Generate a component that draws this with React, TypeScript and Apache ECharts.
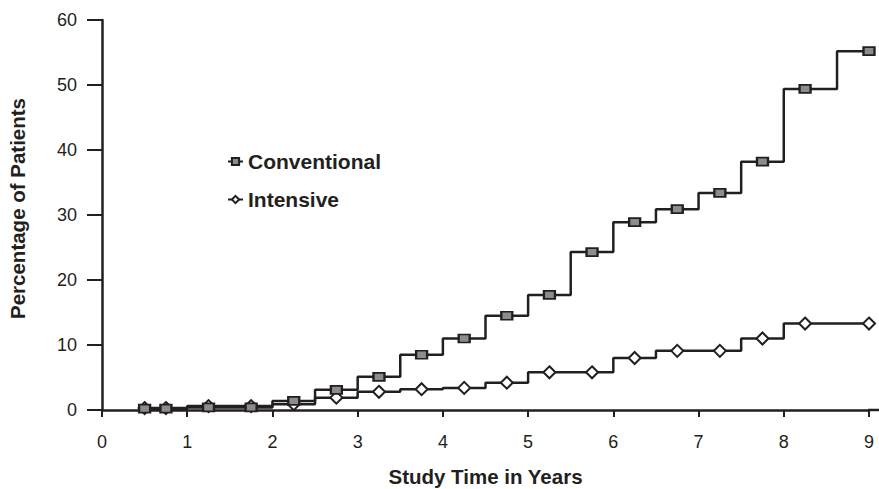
import React, { useEffect, useRef } from "react";
import * as echarts from "echarts";

const years = [0.5, 0.75, 1.25, 1.75, 2.25, 2.75, 3.25, 3.75, 4.25, 4.75, 5.25, 5.75, 6.25, 6.75, 7.25, 7.75, 8.25, 9];
const conventional = [0.2, 0.2, 0.4, 0.4, 1.4, 3.1, 5.1, 8.5, 11.0, 14.5, 17.7, 24.3, 28.9, 30.9, 33.4, 38.2, 49.4, 55.2];
const intensive = [0.3, 0.3, 0.6, 0.6, 0.9, 1.9, 2.8, 3.2, 3.4, 4.2, 5.8, 5.8, 8.0, 9.1, 9.1, 11.0, 13.3, 13.3];
const seriesNames = ["Conventional", "Intensive"];
const xTitle = "Study Time in Years";
const yTitle = "Percentage of Patients";

const INK = "#231f20";
const FONT = "'Liberation Sans', Arial, sans-serif";

export default function App() {
  const ref = useRef<HTMLDivElement>(null);
  useEffect(() => {
    if (!ref.current) return;
    const chart = echarts.init(ref.current, null, { renderer: "svg" });
    const gridLeft = 102;
    const gridRight = 10;
    const gridTop = 20;
    const gridBottom = 79;
    const W = 879;
    const H = 489;
    chart.setOption({
      animation: false,
      backgroundColor: "#ffffff",
      textStyle: { fontFamily: FONT },
      grid: {
        left: gridLeft,
        right: gridRight,
        top: gridTop,
        bottom: gridBottom,
        containLabel: false,
        outerBoundsMode: "none",
      },
      legend: {
        data: seriesNames,
        orient: "vertical",
        left: 222,
        top: 146,
        itemGap: 17,
        itemWidth: 15,
        itemHeight: 9,
        textStyle: { fontFamily: FONT, fontWeight: "bold", fontSize: 21, color: INK },
      },
      xAxis: {
        type: "value",
        min: 0,
        max: 9,
        interval: 1,
        name: xTitle,
        nameLocation: "middle",
        nameGap: 56,
        nameTextStyle: { fontFamily: FONT, fontWeight: "bold", fontSize: 20.5, color: INK },
        splitLine: { show: false },
        axisLine: { show: true, onZero: false, lineStyle: { color: INK, width: 2.5 } },
        axisTick: { show: true, length: 7, lineStyle: { color: INK, width: 2 } },
        axisLabel: { margin: 23, fontFamily: FONT, fontSize: 18, color: INK },
      },
      yAxis: {
        type: "value",
        min: 0,
        max: 60,
        interval: 10,
        name: yTitle,
        nameLocation: "middle",
        nameGap: 74,
        nameTextStyle: { fontFamily: FONT, fontWeight: "bold", fontSize: 20.5, color: INK, padding: [0, 0, 0, 13] },
        splitLine: { show: false },
        axisLine: { show: true, lineStyle: { color: INK, width: 2.5 } },
        axisTick: { show: true, length: 15, lineStyle: { color: INK, width: 2 } },
        axisLabel: { margin: 25, fontFamily: FONT, fontSize: 18, color: INK },
      },
      graphic: [
        {
          type: "line",
          shape: { x1: W - gridRight - 1, y1: H - gridBottom, x2: W, y2: H - gridBottom },
          style: { stroke: INK, lineWidth: 2.5 },
        },
      ],
      series: [
        {
          name: seriesNames[1],
          type: "line",
          step: "middle",
          z: 2,
          data: years.map((x, i) => [x, intensive[i]]),
          symbol: "diamond",
          symbolSize: [12, 12],
          showAllSymbol: true,
          itemStyle: { color: "#ffffff", borderColor: INK, borderWidth: 2 },
          lineStyle: { color: INK, width: 2.5 },
          emphasis: { disabled: true },
        },
        {
          name: seriesNames[0],
          type: "line",
          step: "middle",
          z: 3,
          data: years.map((x, i) => [x, conventional[i]]),
          symbol: "rect",
          symbolSize: [11, 8],
          showAllSymbol: true,
          itemStyle: { color: "#8c8c8c", borderColor: INK, borderWidth: 2 },
          lineStyle: { color: INK, width: 2.5 },
          emphasis: { disabled: true },
        },
      ],
    });
    return () => chart.dispose();
  }, []);
  return <div ref={ref} style={{ width: 879, height: 489, position: "absolute", left: 0, top: 0 }} />;
}
